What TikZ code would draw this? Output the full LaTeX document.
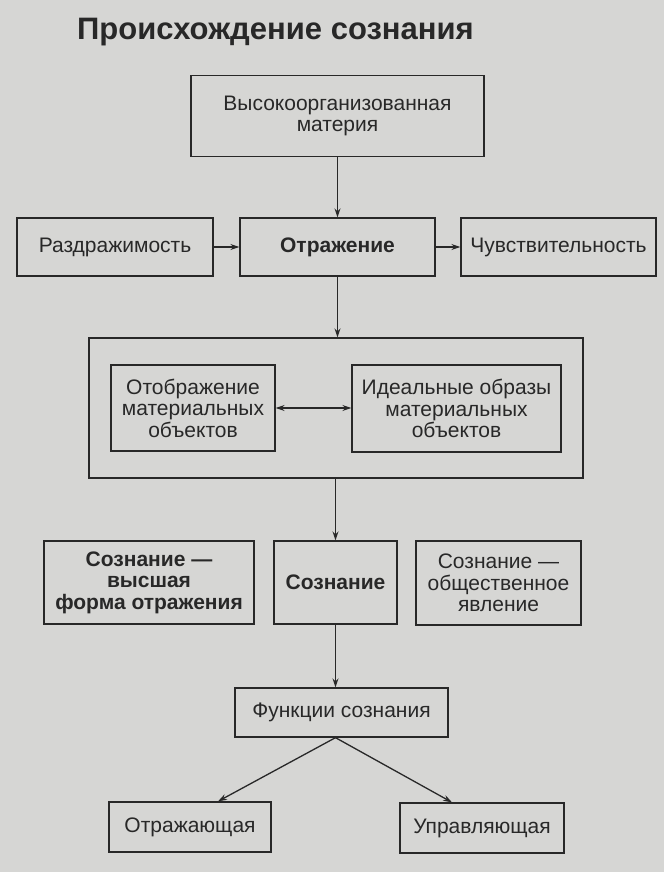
\documentclass[tikz,border=0pt]{standalone}
\usepackage{fontspec}
\setmainfont{Liberation Sans}
\usepackage{tikz}
\usetikzlibrary{arrows.meta,calc}
\definecolor{paper}{RGB}{214,214,212}
\definecolor{ink}{RGB}{40,40,40}
\tikzset{
	box/.style 2 args={draw=ink,line width=1.3pt,minimum width=#1,minimum height=#2,inner sep=0pt,align=center,text=ink,font=\fontsize{21}{21.5}\selectfont},
	bbox/.style 2 args={box={#1}{#2},font=\fontsize{21}{21.5}\selectfont\bfseries},
	arr/.style={draw=ink,line width=1.3pt,-{Stealth[length=9pt,width=6pt]}},
	darr/.style={draw=ink,line width=1.3pt,{Stealth[length=9pt,width=6pt]}-{Stealth[length=9pt,width=6pt]}}
}

\begin{document}
\begin{tikzpicture}[x=1pt,y=-1pt]
	\useasboundingbox (0,0) rectangle (664,872);
	\fill [paper] (0,0) rectangle (664,872);

	\node [anchor=base west,inner sep=0pt,text=ink,font=\fontsize{31}{31}\selectfont\bfseries] (title) at (77,40) {Происхождение сознания};

	\node [box={293pt}{81pt}] (vom) at (337.5,116) {Высокоорганизованная\\материя};
	\node [box={196pt}{58pt}] (rzd) at (115,247) {Раздражимость};
	\node [bbox={195pt}{58pt}] (otr) at (337.5,247) {Отражение};
	\node [box={195pt}{58pt}] (chv) at (558.5,247) {Чувствительность};

	\node [box={494pt}{140pt}] (frame) at (336,408) {};
	\node [box={164pt}{86pt}] (otb) at (193,408) {Отображение\\материальных\\объектов};
	\node [box={209pt}{87pt}] (ido) at (456.5,408.5) {Идеальные образы\\материальных\\объектов};

	\node [bbox={210pt}{83pt}] (vfo) at (149,582.5) {Сознание —\\высшая\\форма отражения};
	\node [bbox={123pt}{83pt}] (soz) at (335.5,582.5) {Сознание};
	\node [box={165pt}{84pt}] (obs) at (498.5,583) {Сознание —\\общественное\\явление};

	\node [box={213pt}{49pt}] (fun) at (341.5,712.5) {Функции сознания};
	\node [box={162pt}{50pt}] (otj) at (190,827) {Отражающая};
	\node [box={164pt}{50pt}] (upr) at (482,828) {Управляющая};

	\coordinate (fb) at (fun.south -| soz.south);

	\draw [arr] (vom.south) -- (otr.north);
	\draw [arr] (rzd.east) -- (otr.west);
	\draw [arr] (otr.east) -- (chv.west);
	\draw [arr] (otr.south) -- (otr.south |- frame.north);
	\draw [darr] (otb.east) -- (otb.east -| ido.west);
	\draw [arr] (soz.south |- frame.south) -- (soz.north);
	\draw [arr] (soz.south) -- (soz.south |- fun.north);
	\draw [arr] (fb) -- ($(otj.north)+(28,0)$);
	\draw [arr] (fb) -- ($(upr.north)+(-30,0)$);
\end{tikzpicture}
\end{document}
